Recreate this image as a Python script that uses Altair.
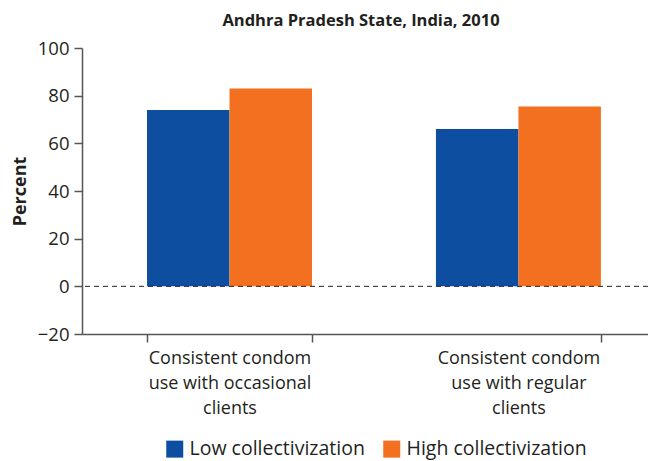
import altair as alt
import pandas as pd

categories = ["Consistent condom|use with occasional|clients", "Consistent condom|use with regular|clients"]
series = ["Low collectivization", "High collectivization"]
low_values = [74, 66]
high_values = [83, 75.5]
colors = ["#0d4ea0", "#f37021"]

rows = []
for c, lo, hi in zip(categories, low_values, high_values):
    rows.append({"cat": c, "group": series[0], "value": lo})
    rows.append({"cat": c, "group": series[1], "value": hi})
df = pd.DataFrame(rows)

FONT = "Open Sans"
TXT = "#231f20"
AX = "#555555"

bars = alt.Chart(df).mark_bar().encode(
    x=alt.X("cat:N", sort=categories, title=None,
            scale=alt.Scale(paddingInner=0.429, paddingOuter=0.194, align=0.58),
            axis=alt.Axis(labelExpr="split(datum.label, '|')", labelAngle=0,
                          labelFontSize=18, labelColor=TXT, labelFont=FONT,
                          labelPadding=7, labelLineHeight=25,
                          tickBand="extent", tickSize=8, tickColor=AX,
                          domainColor=AX, domainWidth=1.5, tickWidth=1.5)),
    xOffset=alt.XOffset("group:N", sort=series),
    y=alt.Y("value:Q", title="Percent",
            scale=alt.Scale(domain=[-20, 100], nice=False),
            axis=alt.Axis(values=[-20, 0, 20, 40, 60, 80, 100], grid=False,
                          labelFontSize=18.5, labelColor=TXT, labelFont=FONT,
                          titleFontSize=18, titleFont=FONT, titleFontWeight="bold",
                          titleColor=TXT, titlePadding=8,
                          tickSize=8, tickColor=AX, domainColor=AX,
                          domainWidth=1.5, tickWidth=1.5, labelPadding=5)),
    color=alt.Color("group:N", sort=series,
                    scale=alt.Scale(domain=series, range=colors),
                    legend=alt.Legend(title=None, orient="none", direction="horizontal",
                                      legendX=83, legendY=391,
                                      symbolType="square", symbolSize=289,
                                      symbolStrokeWidth=0, symbolOpacity=1,
                                      labelFontSize=19.5, labelFont=FONT,
                                      labelColor=TXT, columnPadding=17,
                                      labelOffset=5, labelLimit=400)),
)

zero = alt.Chart(pd.DataFrame({"y": [0]})).mark_rule(
    strokeDash=[5, 4], color=TXT, strokeWidth=1
).encode(y="y:Q")

chart = alt.layer(bars, zero).properties(
    width=566, height=286,
    autosize=alt.AutoSizeParams(type="none"),
    padding={"left": 74, "top": 40, "right": 0, "bottom": 127},
    title=alt.TitleParams("Andhra Pradesh State, India, 2010", fontSize=16.5,
                          font=FONT, fontWeight="bold", color=TXT, offset=10,
                          dx=-4),
).configure_view(stroke=None)

chart.save("out.html", embed_options={"renderer": "svg", "actions": False})
